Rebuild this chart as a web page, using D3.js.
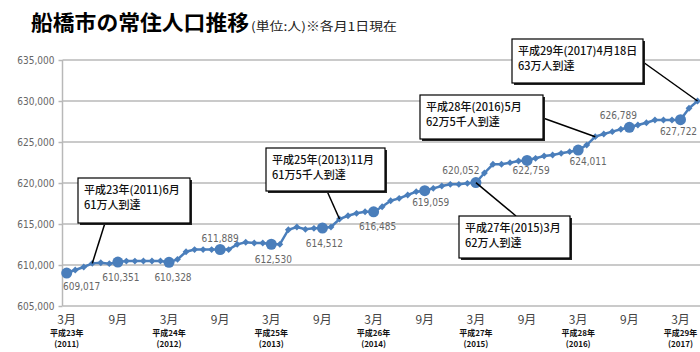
<!DOCTYPE html>
<html><head><meta charset="utf-8">
<script src="https://cdn.jsdelivr.net/npm/d3@7"></script>
<style>
html,body{margin:0;padding:0;background:#fff;}
svg{display:block;}
</style></head>
<body><svg id="chart" width="700" height="352"></svg>
<script>
// ---- data ----
const population = [
  609017, 609390, 609760, 610200, 610280, 610160,  // 2011.3-8
  610351, 610480, 610480, 610490, 610490, 610500,  // 2011.9-2012.2
  610328, 610690, 611620, 611880, 611880, 611880,  // 2012.3-8
  611889, 611880, 612520, 612770, 612680, 612680,  // 2012.9-2013.2
  612530, 612520, 614300, 614630, 614350, 614470,  // 2013.3-8
  614512, 614630, 615610, 616000, 616300, 616500,  // 2013.9-2014.2
  616485, 617110, 617840, 618130, 618540, 618940,  // 2014.3-8
  619059, 619350, 619630, 619840, 619840, 619960,  // 2014.9-2015.2
  620052, 621220, 622280, 622280, 622480, 622680,  // 2015.3-8
  622759, 623010, 623290, 623410, 623620, 623820,  // 2015.9-2016.2
  624011, 624630, 625650, 625980, 626260, 626550,  // 2016.3-8
  626789, 627070, 627350, 627680, 627680, 627680,  // 2016.9-2017.2
  627722, 629110, 630000                           // 2017.3, 2017.4, 2017.4.18
];
const labeledIdx = [0, 6, 12, 18, 24, 30, 36, 42, 48, 54, 60, 66, 72];
const monthTickIdx = [0, 6, 12, 18, 24, 30, 36, 42, 48, 54, 60, 66, 72];
const monthTickLabels = ["3月","9月","3月","9月","3月","9月","3月","9月","3月","9月","3月","9月","3月"];
const yearTickIdx = [0, 12, 24, 36, 48, 60, 72];
const yearTickEra = ["平成23年","平成24年","平成25年","平成26年","平成27年","平成28年","平成29年"];
const yearTickWest = ["(2011)","(2012)","(2013)","(2014)","(2015)","(2016)","(2017)"];
const yTicks = [605000, 610000, 615000, 620000, 625000, 630000, 635000];
const noteIdx = [3, 32, 48, 62, 74];
const noteLine1 = ["平成23年(2011)6月","平成25年(2013)11月","平成27年(2015)3月","平成28年(2016)5月","平成29年(2017)4月18日"];
const noteLine2 = ["61万人到達","61万5千人到達","62万人到達","62万5千人到達","63万人到達"];

// ---- layout ----
const svg = d3.select("#chart");
const x = d3.scaleLinear().domain([0, 72]).range([66.7, 680.5]);
const y = d3.scaleLinear().domain([605000, 635000]).range([306, 60]);
const numFont = "'Liberation Sans Narrow','DejaVu Sans Condensed','Liberation Sans',sans-serif";
const jpFont = "'Noto Sans CJK JP','Noto Sans',sans-serif";
const fmt = d3.format(",");
const blue = "#4a7ebb";

// title
svg.append("text").attr("x", 31).attr("y", 30)
  .style("font-family", jpFont).style("font-weight", "bold").style("font-size", "21px").attr("fill", "#000")
  .attr("textLength", 218).attr("lengthAdjust", "spacingAndGlyphs")
  .text("船橋市の常住人口推移");
svg.append("text").attr("x", 251).attr("y", 31)
  .style("font-family", jpFont).style("font-size", "12px").attr("fill", "#222")
  .attr("textLength", 146).attr("lengthAdjust", "spacingAndGlyphs")
  .text("(単位:人)※各月1日現在");

// gridlines
const gx0 = 62.5, gx1 = 700;
svg.append("g").selectAll("line").data(yTicks).join("line")
  .attr("x1", gx0).attr("x2", gx1).attr("y1", d => y(d)).attr("y2", d => y(d))
  .attr("stroke", "#b8b8b8").attr("stroke-width", 1.5);

// y axis
const yAxis = d3.axisLeft(y).tickValues(yTicks).tickFormat(fmt).tickSize(4).tickPadding(4);
const ya = svg.append("g").attr("transform", `translate(${gx0},0)`).call(yAxis);
ya.select(".domain").attr("stroke", "#b8b8b8").attr("stroke-width", 1.5).attr("d", `M0,${y(635000)}V${y(605000)}`);
ya.selectAll(".tick line").attr("stroke", "#b8b8b8").attr("stroke-width", 1.5);
ya.selectAll(".tick text").style("font-family", numFont).style("font-size", "10px").attr("fill", "#666");

// x labels
const xl = svg.append("g");
xl.selectAll("text.m").data(monthTickIdx).join("text").attr("class", "m")
  .attr("x", d => x(d)).attr("y", 324).attr("text-anchor", "middle")
  .style("font-family", jpFont).style("font-size", "12px").attr("fill", "#444")
  .text((d, i) => monthTickLabels[i]);
xl.selectAll("text.e").data(yearTickIdx).join("text").attr("class", "e")
  .attr("x", d => x(d)).attr("y", 336).attr("text-anchor", "middle")
  .style("font-family", jpFont).style("font-weight", "bold").style("font-size", "8px").attr("fill", "#111")
  .text((d, i) => yearTickEra[i]);
xl.selectAll("text.w").data(yearTickIdx).join("text").attr("class", "w")
  .attr("x", d => x(d)).attr("y", 347).attr("text-anchor", "middle")
  .style("font-family", jpFont).style("font-weight", "bold").style("font-size", "8px").attr("fill", "#111")
  .text((d, i) => yearTickWest[i]);

// line
const line = d3.line().x((d, i) => x(i)).y(d => y(d));
svg.append("path").datum(population).attr("d", line)
  .attr("fill", "none").attr("stroke", blue).attr("stroke-width", 2.5);

// diamond markers
const diamond = d3.symbol().type(d3.symbolDiamond2).size(30);
svg.append("g").selectAll("path").data(population.map((v, i) => ({v, i})).filter(d => !labeledIdx.includes(d.i)))
  .join("path").attr("d", diamond)
  .attr("transform", d => `translate(${x(d.i)},${y(d.v)})`)
  .attr("fill", blue);
// big circle markers
svg.append("g").selectAll("circle").data(labeledIdx).join("circle")
  .attr("cx", d => x(d)).attr("cy", d => y(population[d])).attr("r", 5.5).attr("fill", blue);

// data labels (offsets are styling)
const labelOffset = {0:[15,13],6:[3,15],12:[4,15],18:[0,-11],24:[2,15],30:[2,15],36:[4,15],42:[6,12],48:[-15,-12],54:[4,10],60:[10,11],66:[-11,-12],72:[-2,12]};
svg.append("g").selectAll("text").data(labeledIdx).join("text")
  .attr("x", d => x(d) + labelOffset[d][0]).attr("y", d => y(population[d]) + labelOffset[d][1] + 3.5)
  .attr("text-anchor", "middle")
  .style("font-family", numFont).style("font-size", "10px").attr("fill", "#666")
  .text(d => fmt(population[d]));

// annotation boxes (layout)
const boxes = [
  {x: 78, y: 178, w: 112, h: 45, ax: 105, ay: 223},
  {x: 266, y: 148, w: 119, h: 43, ax: 327, ay: 191},
  {x: 459, y: 216, w: 111, h: 42, ax: 516, ay: 216},
  {x: 420, y: 95, w: 123, h: 44, ax: 543, ay: 118},
  {x: 512, y: 39, w: 131, h: 44, ax: 643, ay: 62}
];
const notes = svg.append("g");
noteIdx.forEach((idx, k) => {
  const b = boxes[k];
  notes.append("line").attr("x1", b.ax).attr("y1", b.ay).attr("x2", x(idx)).attr("y2", y(population[idx]))
    .attr("stroke", "#000").attr("stroke-width", 1.5);
  notes.append("rect").attr("x", b.x + 2).attr("y", b.y + 2).attr("width", b.w).attr("height", b.h).attr("fill", "#222");
  notes.append("rect").attr("x", b.x).attr("y", b.y).attr("width", b.w).attr("height", b.h)
    .attr("fill", "#fff").attr("stroke", "#000").attr("stroke-width", 1.2);
  notes.append("text").attr("x", b.x + 6).attr("y", b.y + 16)
    .style("font-family", jpFont).style("font-size", "11px").style("font-weight", "500").attr("fill", "#111")
    .text(noteLine1[k]);
  notes.append("text").attr("x", b.x + 6).attr("y", b.y + 31)
    .style("font-family", jpFont).style("font-size", "11px").style("font-weight", "500").attr("fill", "#111")
    .text(noteLine2[k]);
});
</script>
</body></html>
